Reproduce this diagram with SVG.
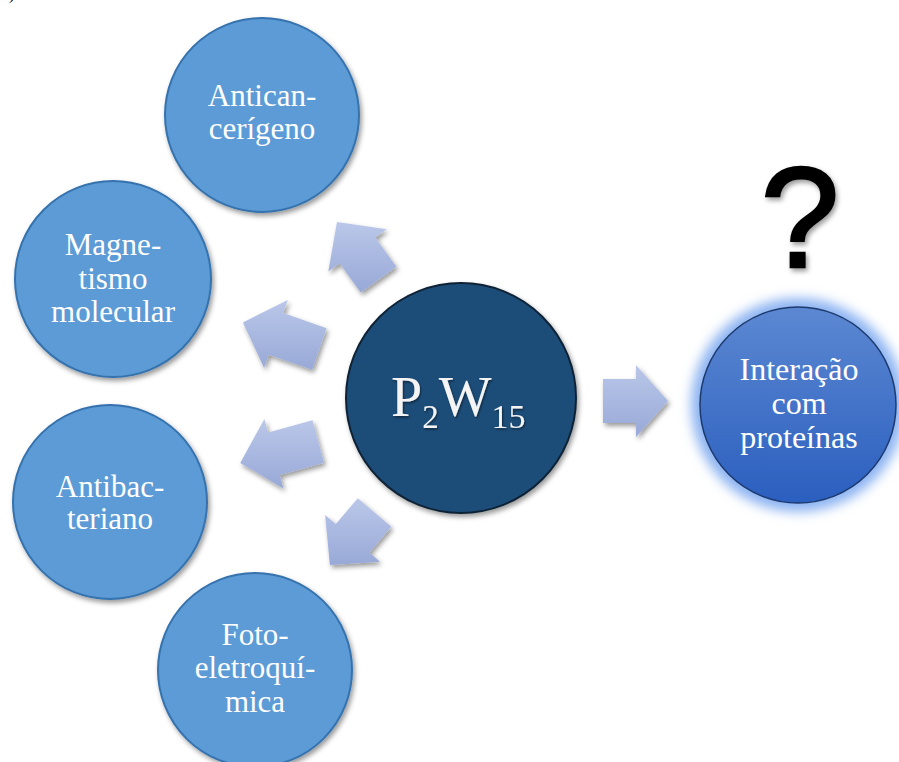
<svg xmlns="http://www.w3.org/2000/svg" width="899" height="762" viewBox="0 0 899 762">
  <defs>
    <style>
      .node { fill: #5B9BD5; stroke: #3572AE; stroke-width: 2; }
      .lbl { font-family: 'Liberation Serif', 'Times New Roman', serif; font-size: 31px; fill: #ffffff; text-anchor: middle; }
      .big { font-size: 32px; }
      .arrow { fill: url(#arrowGrad); filter: url(#shadow); }
    </style>
    <linearGradient id="arrowGrad" x1="0" y1="0" x2="0" y2="1">
      <stop offset="0" stop-color="#BAC7E9"/>
      <stop offset="1" stop-color="#98A9D7"/>
    </linearGradient>
    <linearGradient id="rightGrad" x1="0" y1="0" x2="0" y2="1">
      <stop offset="0" stop-color="#5C88D2"/>
      <stop offset="1" stop-color="#2B5FBF"/>
    </linearGradient>
    <filter id="shadow" x="-30%" y="-30%" width="160%" height="160%">
      <feDropShadow dx="2" dy="3" stdDeviation="2.5" flood-color="#000000" flood-opacity="0.4"/>
    </filter>
    <filter id="tshadow" x="-10%" y="-10%" width="120%" height="130%">
      <feDropShadow dx="1" dy="1.5" stdDeviation="1" flood-color="#000000" flood-opacity="0.5"/>
    </filter>
    <filter id="glow" x="-40%" y="-40%" width="180%" height="180%">
      <feGaussianBlur stdDeviation="6"/>
    </filter>
  </defs>

  <rect x="0" y="0" width="899" height="762" fill="#ffffff"/>

  <text x="9" y="-1" font-family="Liberation Serif, serif" font-size="18" fill="#000000">)</text>

  <g id="connectors">
    <polygon class="arrow" points="337,222 386.7,229.3 375.3,237.5 396.4,266.7 360.7,292.4 339.6,263.2 328.3,271.4"/>
    <polygon class="arrow" points="242.9,322.4 287.8,299.9 283.2,313.1 326.6,328.2 312.1,369.8 268.7,354.7 264.1,367.9"/>
    <polygon class="arrow" points="240.2,462.9 264.4,419.0 268.1,432.5 312.5,420.3 324.1,462.8 279.8,474.9 283.4,488.4"/>
    <polygon class="arrow" points="329.9,565.1 325.1,515.1 335.8,524.1 357.8,498.2 391.3,526.7 369.4,552.6 380.0,561.7"/>
    <polygon class="arrow" points="668,401 636,365 636,379 603,379 603,423 636,423 636,437"/>
  </g>

  <g id="anticancerigeno">
    <circle class="node" cx="262" cy="115" r="97" filter="url(#shadow)"/>
    <text class="lbl" x="262" y="106">Antican-</text>
    <text class="lbl" x="262" y="139">cerígeno</text>
  </g>

  <g id="magnetismo">
    <circle class="node" cx="113" cy="279" r="98" filter="url(#shadow)"/>
    <text class="lbl" x="113" y="255">Magne-</text>
    <text class="lbl" x="113" y="289">tismo</text>
    <text class="lbl" x="113" y="322">molecular</text>
  </g>

  <g id="antibacteriano">
    <circle class="node" cx="110" cy="502" r="97" filter="url(#shadow)"/>
    <text class="lbl" x="110" y="497">Antibac-</text>
    <text class="lbl" x="110" y="529">teriano</text>
  </g>

  <g id="fotoeletroquimica">
    <circle class="node" cx="255" cy="670" r="97" filter="url(#shadow)"/>
    <text class="lbl" x="255" y="645">Foto-</text>
    <text class="lbl" x="255" y="678">eletroquí-</text>
    <text class="lbl" x="255" y="712">mica</text>
  </g>

  <g id="p2w15">
    <circle cx="461" cy="398" r="115" fill="#1F4E79" stroke="#0E2236" stroke-width="2" filter="url(#shadow)"/>
    <text x="391" y="416" font-family="Liberation Serif, 'Times New Roman', serif" font-size="56" fill="#F4F4F4" filter="url(#tshadow)">P<tspan font-size="33" dy="12">2</tspan><tspan dy="-12">W</tspan><tspan font-size="34" dy="12">15</tspan></text>
  </g>

  <g id="interacao">
    <circle cx="798" cy="405" r="107" fill="#8DB4F2" filter="url(#glow)"/>
    <circle cx="798" cy="405" r="98" fill="url(#rightGrad)" stroke="#1D3A6E" stroke-width="1.5"/>
    <text class="lbl big" x="799" y="380">Interação</text>
    <text class="lbl big" x="799" y="414">com</text>
    <text class="lbl big" x="799" y="448">proteínas</text>
  </g>

  <g id="question">
    <text x="800" y="267" font-family="Liberation Sans, Arial, sans-serif" font-size="142" fill="#000000" stroke="#000000" stroke-width="2.5" text-anchor="middle" filter="url(#shadow)">?</text>
  </g>
</svg>
